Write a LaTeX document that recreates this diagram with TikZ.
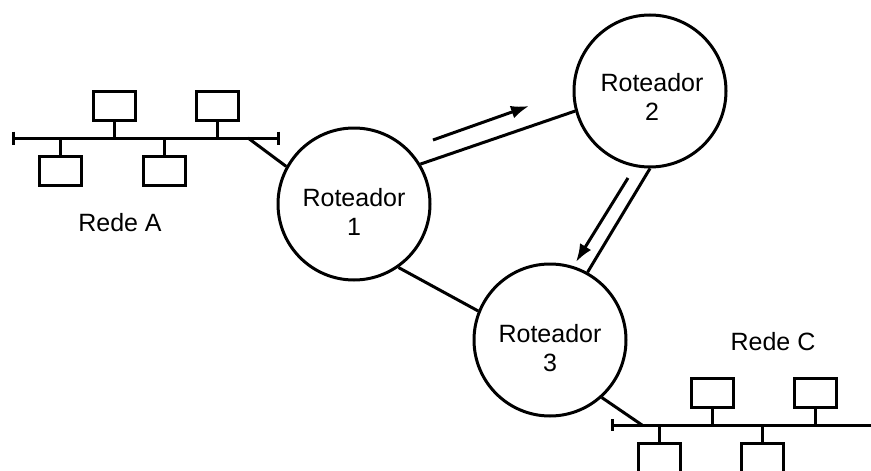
\documentclass[tikz,border=0pt]{standalone}
\usepackage{fontspec}
\setmainfont{Liberation Sans}
\usetikzlibrary{arrows.meta}
\begin{document}
\begin{tikzpicture}[x=1pt,y=-1pt,
  wire/.style={line width=3pt},
  router/.style={circle, draw, line width=3pt, minimum size=152pt, inner sep=0pt},
  host/.style={draw, line width=3pt, minimum width=42pt, minimum height=29pt, inner sep=0pt},
  lbl/.style={font=\fontsize{25pt}{29pt}\selectfont, align=center, inner sep=0pt},
  flow/.style={wire, -{Latex[length=18pt,width=13pt]}},
  endcap/.style={wire}]
\useasboundingbox (0,0) rectangle (871,471);
\clip (0,0) rectangle (871,471);
% routers
\node[router] (r1) at (354,204) {};
\node[router] (r2) at (650,91) {};
\node[router] (r3) at (550,340) {};
\node[lbl] (r1t) at (354,212) {Roteador\\1};
\node[lbl] (r2t) at (652,97) {Roteador\\2};
\node[lbl] (r3t) at (550,348) {Roteador\\3};
% links between routers
\draw[wire] (r1.31.7) -- (r2.195);
\draw[wire] (r2.270) -- (r3.61.8);
\draw[wire] (r1.305) -- (r3.158.7);
% flow arrows
\coordinate (f1s) at (433,140);
\coordinate (f1e) at (529,106);
\coordinate (f2s) at (628,178);
\coordinate (f2e) at (576,262);
\draw[flow] (f1s) -- (f1e);
\draw[flow] (f2s) -- (f2e);
% network A
\coordinate (aL) at (13,138);
\coordinate (aR) at (278,138);
\coordinate (aJ) at (248,138);
\draw[wire] (aL) -- (aR);
\draw[endcap] ([yshift=6.5pt]aL) -- ([yshift=-6.5pt]aL);
\draw[endcap] ([yshift=6.5pt]aR) -- ([yshift=-6.5pt]aR);
\node[host] (a1) at (114.5,106) {};
\node[host] (a2) at (217,106) {};
\node[host] (a3) at (60,170.5) {};
\node[host] (a4) at (164,170.5) {};
\foreach \h in {a1,a2,a3,a4} \draw[wire] (\h) -- (\h |- aL);
\draw[wire] (aJ) -- (r1.151);
\node[lbl] (redeA) at (120,223) {Rede A};
% network C
\coordinate (cL) at (612,425);
\coordinate (cR) at (880,425);
\coordinate (cJ) at (642,425);
\draw[wire] (cL) -- (cR);
\draw[endcap] ([yshift=6pt]cL) -- ([yshift=-6pt]cL);
\node[host] (c1) at (712,393) {};
\node[host] (c2) at (815.5,393) {};
\node[host] (c3) at (659.5,458) {};
\node[host] (c4) at (762.5,458) {};
\foreach \h in {c1,c2} \draw[wire] (\h.south) -- (\h.south |- cL);
\foreach \h in {c3,c4} \draw[wire] (\h.north) -- (\h.north |- cL);
\draw[wire] (cJ) -- (r3.312);
\node[lbl] (redeC) at (773,342) {Rede C};
\end{tikzpicture}
\end{document}
